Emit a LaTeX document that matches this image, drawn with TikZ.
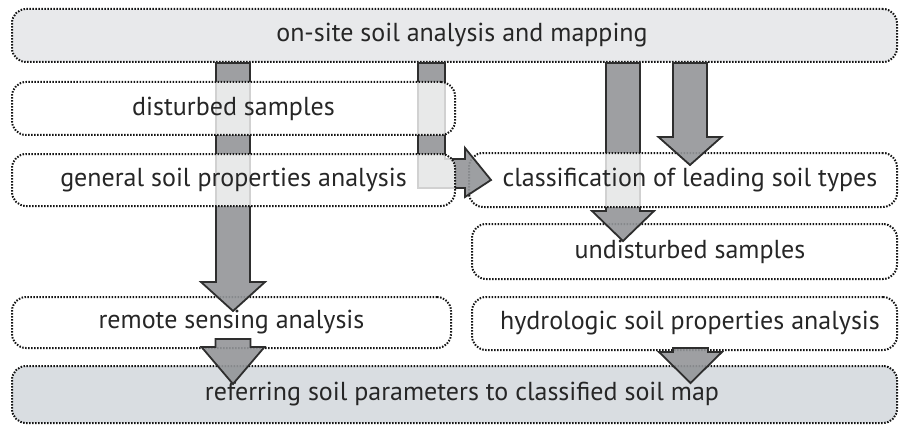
\documentclass[tikz,border=0pt]{standalone}
\usepackage{fontspec}
\setmainfont{PT Sans}
\usetikzlibrary{calc}
\definecolor{boxline}{HTML}{141414}
\definecolor{topfill}{HTML}{E8E9EB}
\definecolor{botfill}{HTML}{D9DDE1}
\definecolor{arrowfill}{HTML}{939598}
\definecolor{arrowline}{HTML}{2E2E2E}
\definecolor{txt}{HTML}{262626}
\tikzset{
  box/.style={rectangle, rounded corners=14pt, draw=boxline, line width=2pt,
    dash pattern=on 1.5pt off 1.5pt, font=\fontsize{26}{30}\selectfont, text=txt,
    inner sep=0pt},
  veil/.style={box, fill=white, fill opacity=0.78, text opacity=1},
  blockarrow/.style={fill=arrowfill, fill opacity=0.9, draw=arrowline,
    line width=1.8pt, line join=miter, miter limit=10}
}
% vertical block arrow: start, tip, head length, shaft half width, head half width
\newcommand{\vblock}[5]{%
  \path[blockarrow] let \p1=(#1), \p2=(#2) in
    (\x1-#4pt,\y1) -- (\x1+#4pt,\y1) -- (\x1+#4pt,\y2+#3pt) -- (\x1+#5pt,\y2+#3pt)
    -- (\x1,\y2) -- (\x1-#5pt,\y2+#3pt) -- (\x1-#4pt,\y2+#3pt) -- cycle;}
\begin{document}
\begin{tikzpicture}[x=1pt,y=-1pt]
\useasboundingbox (0,0) rectangle (899,425);

% lower layer of boxes
\node[box, fill=topfill, minimum width=885pt, minimum height=53pt] (top) at (454.5,35.5)
  {\hspace*{15pt}on-site soil analysis and mapping};
\node[box, fill=botfill, minimum width=885pt, minimum height=57pt] (bottom) at (454.5,394.5)
  {\hspace*{15pt}referring soil parameters to classified soil map};
\node[box, minimum width=439pt, minimum height=51pt] (remote) at (231.5,322.5)
  {remote sensing analysis};
\node[box, minimum width=425pt, minimum height=55pt] (undist) at (684.5,251.5)
  {\hspace*{11pt}undisturbed samples};
\node[box, minimum width=425pt, minimum height=53pt] (hydro) at (684.5,323.5)
  {\hspace*{11pt}hydrologic soil properties analysis};

% arrow end points
\coordinate (a1s) at (top.south -| 233,0);
\coordinate (a1e) at ([yshift=-15pt]remote.north -| 233,0);
\coordinate (a3s) at (top.south -| 623,0);
\coordinate (a3e) at ([yshift=-18pt]undist.north -| 623,0);
\coordinate (a4s) at (top.south -| 690,0);
\coordinate (a4e) at (690,165);
\coordinate (a5s) at ([yshift=10pt]remote.south -| 233,0);
\coordinate (a5e) at ([yshift=-19pt]bottom.north -| 233,0);
\coordinate (a6s) at ([yshift=3pt]hydro.south -| 690.5,0);
\coordinate (a6e) at ([yshift=-18pt]bottom.north -| 690.5,0);

% long arrows running under the veiled boxes
\vblock{a1s}{a1e}{29}{17}{32}
\vblock{a3s}{a3e}{30}{17}{31}

\node[veil, minimum width=428pt, minimum height=54pt] (classif) at (683,180)
  {\hspace*{14pt}classification of leading soil types};

% bent arrow from the top box into the classification box
\path[blockarrow] let \p1=(top.south), \p2=(classif.west) in
  (418,\y1) -- (445,\y1) -- (445,159) -- (465,159) -- (465,148)
  -- ([xshift=23pt]\p2) -- (465,197) -- (465,188) -- (418,188) -- cycle;

\vblock{a4s}{a4e}{28}{17}{31.5}
\vblock{a5s}{a5e}{37}{17.5}{31.5}
\vblock{a6s}{a6e}{31}{17.5}{31.5}

% upper layer of boxes
\node[veil, minimum width=443pt, minimum height=53pt] (dist) at (233.5,108.5)
  {disturbed samples};
\node[veil, minimum width=443pt, minimum height=52pt] (general) at (233.5,180)
  {general soil properties analysis};
\end{tikzpicture}
\end{document}
